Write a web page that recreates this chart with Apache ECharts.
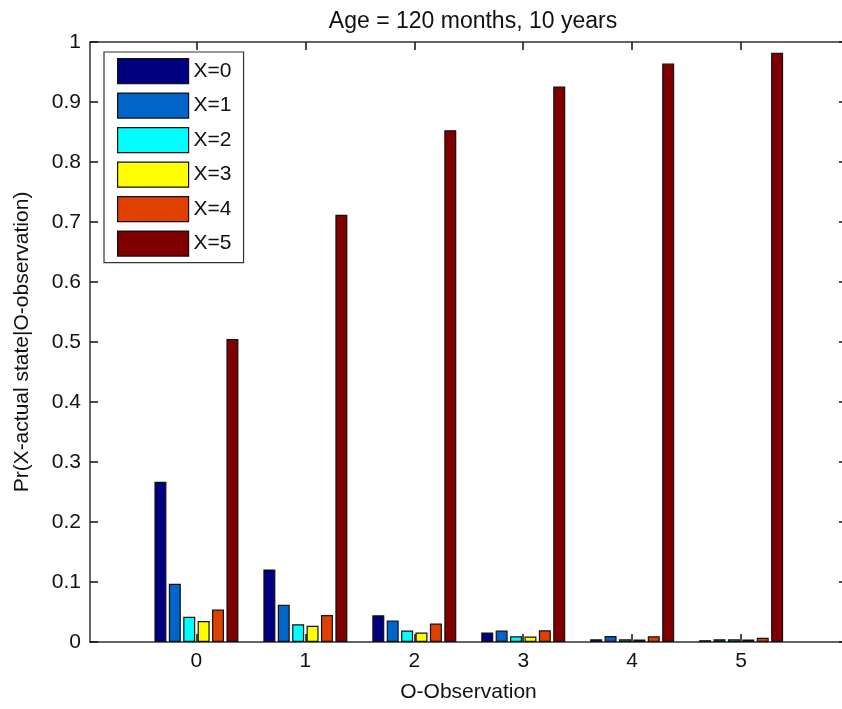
<!DOCTYPE html>
<html>
<head>
<meta charset="utf-8">
<script src="https://cdn.jsdelivr.net/npm/echarts@6/dist/echarts.min.js"></script>
<style>html,body{margin:0;padding:0;background:#fff;}#c{width:842px;height:709px;}</style>
</head>
<body>
<div id="c"></div>
<script>
const categories = [0, 1, 2, 3, 4, 5];
const seriesNames = ['X=0', 'X=1', 'X=2', 'X=3', 'X=4', 'X=5'];
const x0 = [0.267, 0.121, 0.0445, 0.016, 0.0045, 0.003];
const x1 = [0.097, 0.062, 0.036, 0.019, 0.010, 0.0045];
const x2 = [0.042, 0.0295, 0.019, 0.0095, 0.0045, 0.0045];
const x3 = [0.035, 0.027, 0.0157, 0.009, 0.004, 0.004];
const x4 = [0.054, 0.045, 0.0307, 0.0195, 0.0095, 0.007];
const x5 = [0.505, 0.712, 0.853, 0.926, 0.964, 0.982];
const yTicks = [0, 0.1, 0.2, 0.3, 0.4, 0.5, 0.6, 0.7, 0.8, 0.9, 1];
const colors = ['#000080', '#0064C8', '#00FFFF', '#FFFF00', '#E04000', '#800000'];
const allValues = [x0, x1, x2, x3, x4, x5];

const FONT = '"Liberation Sans", Arial, sans-serif';
const axisLine = { show: true, onZero: false, lineStyle: { color: '#333', width: 1.5 } };
const X_MIN = -0.977, X_MAX = 5.972;

const chart = echarts.init(document.getElementById('c'), null, { renderer: 'canvas' });
chart.setOption({
  animation: false,
  backgroundColor: '#fff',
  textStyle: { fontFamily: FONT },
  title: {
    text: 'Age = 120 months, 10 years',
    left: 468, top: 5, textAlign: 'center',
    textStyle: { fontFamily: FONT, fontSize: 23, fontWeight: 'normal', color: '#111' }
  },
  grid: { left: 90, top: 42, width: 757, height: 600, containLabel: false, outerBoundsMode: 'none' },
  legend: {
    orient: 'vertical', left: 104, top: 52,
    data: seriesNames,
    itemWidth: 71, itemHeight: 25, itemGap: 8.3,
    padding: [6, 12, 6, 13],
    borderColor: '#333', borderWidth: 1.2, backgroundColor: '#fff',
    icon: 'rect',
    itemStyle: { borderColor: '#111', borderWidth: 1.2 },
    textStyle: { fontFamily: FONT, fontSize: 21, color: '#111' }
  },
  xAxis: [{
    type: 'value', position: 'bottom', min: X_MIN, max: X_MAX,
    name: 'O-Observation', nameLocation: 'middle', nameGap: 40,
    nameTextStyle: { fontFamily: FONT, fontSize: 21, color: '#111' },
    axisLine: axisLine,
    splitLine: { show: false },
    axisTick: { show: true, inside: true, length: 8, lineStyle: { color: '#111', width: 1.5 }, customValues: categories },
    axisLabel: { show: true, customValues: categories, margin: 9, fontFamily: FONT, fontSize: 21, color: '#111', formatter: v => String(Math.round(v)) }
  }, {
    type: 'value', position: 'top', min: X_MIN, max: X_MAX,
    axisLine: axisLine,
    splitLine: { show: false },
    axisTick: { show: true, inside: true, length: 8, lineStyle: { color: '#111', width: 1.5 }, customValues: categories },
    axisLabel: { show: false }
  }],
  yAxis: [{
    type: 'value', position: 'left', min: 0, max: 1, interval: 0.1,
    name: 'Pr(X-actual state|O-observation)', nameLocation: 'middle', nameGap: 57,
    nameTextStyle: { fontFamily: FONT, fontSize: 21, color: '#111' },
    axisLine: axisLine,
    splitLine: { show: false },
    axisTick: { show: true, inside: true, length: 8, lineStyle: { color: '#111', width: 1.5 } },
    axisLabel: { margin: 9, fontFamily: FONT, fontSize: 21, color: '#111',
      formatter: v => { const i = yTicks.findIndex(t => Math.abs(t - v) < 1e-9); return i >= 0 ? String(yTicks[i]) : ''; } }
  }, {
    type: 'value', position: 'right', min: 0, max: 1, interval: 0.1,
    axisLine: axisLine,
    splitLine: { show: false },
    axisTick: { show: true, inside: true, length: 8, lineStyle: { color: '#111', width: 1.5 } },
    axisLabel: { show: false }
  }],
  series: seriesNames.map((name, k) => ({
    name: name,
    type: 'bar',
    xAxisIndex: 0, yAxisIndex: 0,
    barWidth: 12, barGap: '20%',
    itemStyle: { color: colors[k], borderColor: '#111', borderWidth: 1.2 },
    data: categories.map((c, i) => [c, allValues[k][i]])
  }))
});
</script>
</body>
</html>
